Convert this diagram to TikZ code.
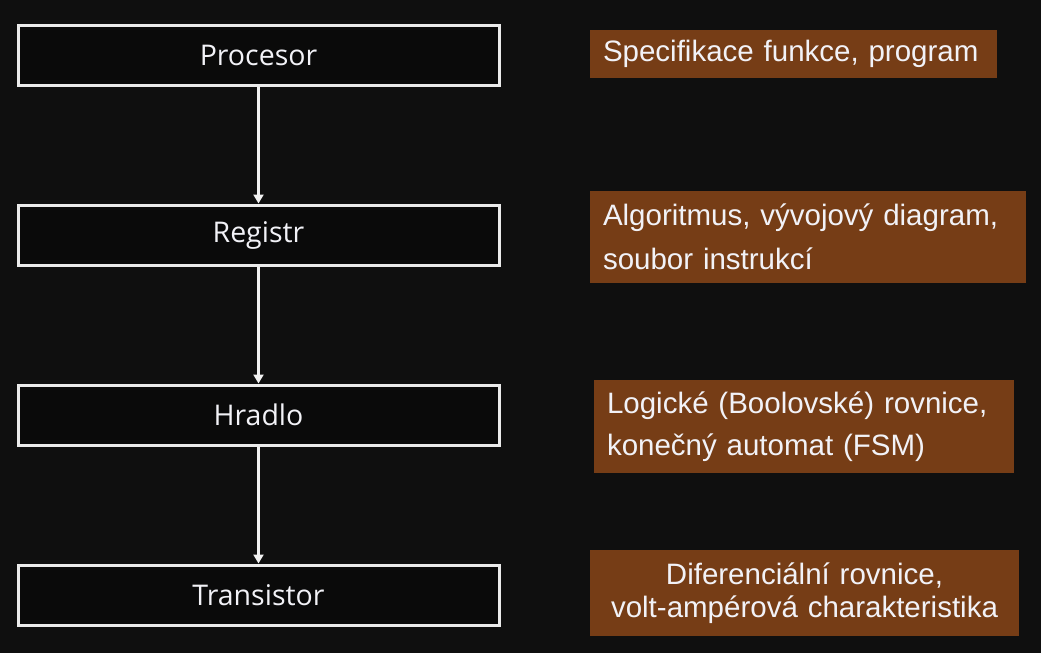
\documentclass[tikz,border=0pt]{standalone}
\usepackage{fontspec}
\setmainfont{Liberation Sans}
\newfontfamily\boxfont{Open Sans}
\usetikzlibrary{arrows.meta}
\definecolor{bg}{HTML}{0F0F0F}
\definecolor{boxbg}{HTML}{0A0A0A}
\definecolor{brown}{HTML}{763D16}
\definecolor{txt}{HTML}{F2F2F7}
\tikzset{
  level/.style={draw=white!92!black,line width=3,fill=boxbg,text=txt,
    minimum width=481,minimum height=60,font=\boxfont\fontsize{28.5}{32}\selectfont},
  note/.style={fill=brown,text=txt,inner xsep=13,inner ysep=0,
    font=\fontsize{29.5}{#1}\selectfont},
  note/.default=34,
  flow/.style={white!95!black,line width=2.5,-{Triangle[width=10,length=9]}}
}
\begin{document}
\begin{tikzpicture}[x=1pt,y=-1pt]
     \fill[bg] (0,0) rectangle (1041,653);
     \useasboundingbox (0,0) rectangle (1041,653);
     % levels
     \node[level] (proc) at (258.5,55) {Procesor};
     \node[level] (reg) at (258.5,235) {Registr};
     \node[level] (gate) at (258.5,415) {Hradlo};
     \node[level] (trans) at (258.5,595) {Transistor};
     \draw[flow] (proc) -- (reg);
     \draw[flow] (reg) -- (gate);
     \draw[flow] (gate) -- (trans);
     % descriptions
     \node[note,minimum height=48,text width=381,align=left] (spec) at (793.5,54)
        {Specifikace funkce, program};
     \node[note=44,minimum height=92,text width=410,align=left] (algo) at (808,237)
        {Algoritmus, vývojový diagram,\\soubor instrukcí};
     \node[note=42,minimum height=93,text width=394,align=left] (logic) at (804,426.5)
        {Logické (Boolovské) rovnice,\\konečný automat (FSM)};
     \node[note=33,minimum height=86,text width=403,align=center] (diff) at (804.5,593)
        {Diferenciální rovnice,\\volt-ampérová charakteristika};
\end{tikzpicture}
\end{document}
